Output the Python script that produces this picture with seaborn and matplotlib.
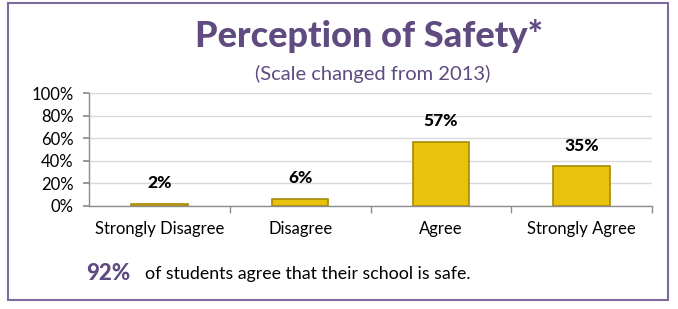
import matplotlib.pyplot as plt
import matplotlib.ticker as mticker
from matplotlib.patches import Rectangle
import seaborn as sns
import pandas as pd

# ---------------------------------------------------------------------------
# Data
# ---------------------------------------------------------------------------

categories = ["Strongly Disagree", "Disagree", "Agree", "Strongly Agree"]
percent = [2, 6, 57, 35]
y_ticks = [0, 20, 40, 60, 80, 100]

TITLE = "Perception of Safety*"
SUBTITLE = "(Scale changed from 2013)"
HEADLINE = "92%"
FOOTNOTE = "of students agree that their school is safe."

# ---------------------------------------------------------------------------
# Style
# ---------------------------------------------------------------------------

PURPLE = "#5F4B80"
FRAME = "#7D6A9E"
GOLD = "#E9C20C"
GOLD_EDGE = "#A88A08"
GRID = "#D9D9D9"
AXIS = "#8C8C8C"

sns.set_theme(style="white")
plt.rcParams["font.family"] = ["Lato", "DejaVu Sans"]

df = pd.DataFrame({"category": categories, "percent": percent})

W, H = 678, 309
fig = plt.figure(figsize=(W / 100, H / 100), dpi=100)
fig.patch.set_facecolor("white")
ax = fig.add_axes([89 / W, 1 - 206 / H, (652 - 89) / W, (206 - 93) / H])

sns.barplot(
    data=df, x="category", y="percent",
    color=GOLD, edgecolor=GOLD_EDGE, linewidth=1.2,
    width=0.4, saturation=1, ax=ax,
)

for i, v in enumerate(percent):
    ax.annotate(
        f"{v}%", xy=(i, v), xytext=(0, 15), textcoords="offset points",
        ha="center", va="center", fontsize=12.5, fontweight="black", color="black",
    )

ax.set_xlim(-0.5, len(categories) - 0.5)
ax.set_ylim(0, 100)
ax.set_yticks(y_ticks)
ax.yaxis.set_major_formatter(mticker.FuncFormatter(lambda x, _: f"{x:.0f}%"))
ax.set_xticks(range(len(categories)))
ax.set_xticks([i + 0.5 for i in range(len(categories))], minor=True)
ax.tick_params(axis="x", which="major", length=0, labelsize=12, colors="black", pad=11)
ax.tick_params(axis="x", which="minor", length=5, color=AXIS, direction="out", bottom=True)
ax.tick_params(axis="y", length=4, color=AXIS, direction="out", labelsize=12,
               colors="black", pad=7, left=True)
ax.set_xlabel("")
ax.set_ylabel("")
ax.grid(axis="y", color=GRID, linewidth=1.0)
ax.set_axisbelow(True)
for side in ["top", "right"]:
    ax.spines[side].set_visible(False)
for side in ["left", "bottom"]:
    ax.spines[side].set_color(AXIS)
    ax.spines[side].set_linewidth(1.0)

# titles and footnote
fig.text(369 / W, 1 - 36 / H, TITLE, ha="center", va="center",
         fontsize=26, fontweight="black", color=PURPLE)
fig.text(373 / W, 1 - 74 / H, SUBTITLE, ha="center", va="center",
         fontsize=14.5, color=PURPLE)
fig.text(86 / W, 1 - 273 / H, HEADLINE, ha="left", va="center",
         fontsize=16, fontweight="black", color=PURPLE)
fig.text(145 / W, 1 - 274 / H, FOOTNOTE, ha="left", va="center",
         fontsize=12.8, color="black")

# outer frame
fig.add_artist(Rectangle((8 / W, 1 - 300 / H), (668 - 8) / W, (300 - 3) / H,
                         transform=fig.transFigure, fill=False,
                         edgecolor=FRAME, linewidth=1.5))

fig.savefig("out.png", dpi=100)
